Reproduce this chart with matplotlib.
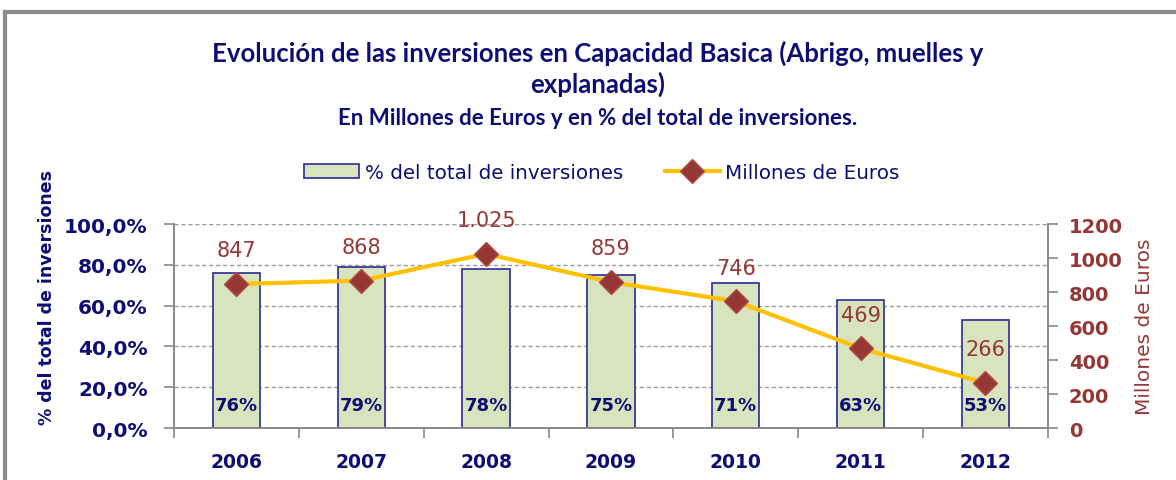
import matplotlib
matplotlib.use("Agg")
import matplotlib.pyplot as plt
from matplotlib.lines import Line2D
from matplotlib.transforms import blended_transform_factory

years = ["2006", "2007", "2008", "2009", "2010", "2011", "2012"]
pct_total = [76, 79, 78, 75, 71, 63, 53]
millones = [847, 868, 1025, 859, 746, 469, 266]
millones_labels = ["847", "868", "1.025", "859", "746", "469", "266"]

navy = "#0D0D73"
darkred = "#953735"
gold = "#FFC000"
green = "#D7E4BD"

fig = plt.figure(figsize=(11.76, 4.81), dpi=100)
ax = fig.add_axes([0.148, 0.108, 0.743, 0.424])
ax2 = ax.twinx()

x = list(range(len(years)))
bars = ax.bar(x, pct_total, width=0.38, color=green, edgecolor="#3A3A9A",
              linewidth=1.3, zorder=2, label="% del total de inversiones")
ax.set_ylim(0, 100)
ax.set_xlim(-0.5, len(years) - 0.5)
ax.set_yticks([0, 20, 40, 60, 80, 100])
ax.set_yticklabels([f"{v},0%" for v in [0, 20, 40, 60, 80, 100]])
ax.yaxis.grid(True, linestyle=(0, (3, 2)), color="#999999", linewidth=1)
ax.set_axisbelow(True)

ax.set_xticks(x)
ax.set_xticklabels(years)
ax.set_xticks([i + 0.5 for i in range(-1, len(years))], minor=True)
ax.tick_params(axis="x", which="major", length=0, pad=17, labelsize=13.5,
               labelcolor=navy)
ax.tick_params(axis="x", which="minor", length=7, color="#888888", width=1.2)
ax.tick_params(axis="y", length=7, color="#888888", width=1.2, labelsize=14.5,
               labelcolor=navy, pad=12)
for lab in ax.get_xticklabels() + ax.get_yticklabels():
    lab.set_fontweight("bold")

for s in ["top"]:
    ax.spines[s].set_visible(False)
    ax2.spines[s].set_visible(False)
for s in ["left", "bottom", "right"]:
    ax.spines[s].set_color("#888888")
    ax.spines[s].set_linewidth(1.2)
    ax2.spines[s].set_color("#888888")
    ax2.spines[s].set_linewidth(1.2)

ax.set_ylabel("% del total de inversiones", color=navy, fontsize=12.5,
              fontweight="bold")
ax.yaxis.set_label_coords(-0.135, 0.645)

# percentage labels inside bars
tr = blended_transform_factory(ax.transData, ax.transAxes)
for xi, v in zip(x, pct_total):
    ax.text(xi, 0.115, f"{v}%", transform=tr, ha="center", va="center",
            fontsize=13, fontweight="bold", color=navy, zorder=5)

# line on secondary axis
line, = ax2.plot(x, millones, color=gold, linewidth=3, marker="D",
                 markersize=12, markerfacecolor=darkred,
                 markeredgecolor="#B04A48", zorder=4, label="Millones de Euros")
ax2.set_ylim(0, 1200)
ax2.set_yticks(range(0, 1201, 200))
ax2.tick_params(axis="y", length=7, color="#888888", width=1.2, labelsize=14,
                labelcolor=darkred, pad=8)
for lab in ax2.get_yticklabels():
    lab.set_fontweight("bold")
ax2.set_ylabel("Millones de Euros", color=darkred, fontsize=14.5)
ax2.yaxis.set_label_coords(1.1, 0.5)

for xi, v, t in zip(x, millones, millones_labels):
    ax2.annotate(t, (xi, v), xytext=(0, 17), textcoords="offset points",
                 ha="center", va="bottom", fontsize=15, color=darkred, zorder=6)

ax.set_zorder(1)
ax2.set_zorder(2)
ax.patch.set_visible(False)

# legend
leg = fig.legend(handles=[bars, line], loc="center", bbox_to_anchor=(0.512, 0.64),
                 ncol=2, frameon=False, fontsize=14.3, handlelength=2.75,
                 columnspacing=2.1, handletextpad=0.3)
for t in leg.get_texts():
    t.set_color(navy)

# titles
fig.text(0.508, 0.89, "Evolución de las inversiones en Capacidad Basica (Abrigo, muelles y",
         ha="center", va="center", fontsize=18.5, fontweight="bold", color=navy,
         family="Lato")
fig.text(0.508, 0.824, "explanadas)", ha="center", va="center", fontsize=18.5,
         fontweight="bold", color=navy, family="Lato")
fig.text(0.508, 0.753, "En Millones de Euros y en % del total de inversiones.",
         ha="center", va="center", fontsize=16, fontweight="bold", color=navy,
         family="Lato")

# outer frame
fig.add_artist(Line2D([0.004, 1.0], [0.973, 0.973], color="#8C8C8C", linewidth=3,
                      transform=fig.transFigure))
fig.add_artist(Line2D([0.004, 0.004], [0.0, 0.973], color="#8C8C8C", linewidth=3,
                      transform=fig.transFigure))

fig.savefig("out.png", dpi=100)
